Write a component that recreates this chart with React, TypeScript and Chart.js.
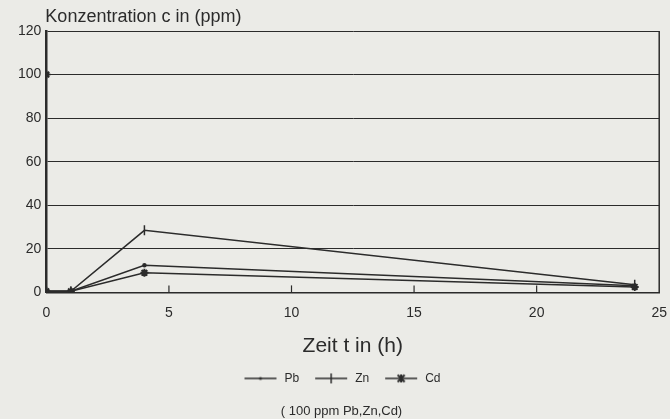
import React, { useEffect, useRef } from "react";
import { Chart, registerables } from "chart.js";

Chart.register(...registerables);

const times = [0, 1, 4, 24];
const pbValues = [0.5, 0.5, 12.5, 3];
const znValues = [0.5, 0.5, 28.5, 3.5];
const cdValues = [0.5, 0.5, 9, 2.5];
const initialTime = [0];
const initialValue = [100];
const seriesNames = ["Pb", "Zn", "Cd"];
const xTickValues = [0, 5, 10, 15, 20, 25];
const yTickValues = [0, 20, 40, 60, 80, 100, 120];

const INK = "#2b2b2b";
const BG = "#ebebe7";
const FONT = "'Liberation Sans', Arial, sans-serif";

function pts(xs: number[], ys: number[]) {
  return xs.map((x, i) => ({ x, y: ys[i] }));
}

function makeIcon(style: string): HTMLCanvasElement {
  const c = document.createElement("canvas");
  c.width = 36;
  c.height = 12;
  const g = c.getContext("2d")!;
  g.strokeStyle = INK;
  g.fillStyle = INK;
  g.lineWidth = 1.5;
  g.beginPath();
  g.moveTo(2, 6);
  g.lineTo(34, 6);
  g.stroke();
  if (style === "dot") {
    g.beginPath();
    g.arc(18, 6, 1.5, 0, Math.PI * 2);
    g.fill();
  } else if (style === "cross") {
    g.beginPath();
    g.moveTo(18, 1);
    g.lineTo(18, 11);
    g.stroke();
  } else if (style === "star") {
    g.lineWidth = 2;
    g.beginPath();
    g.moveTo(18, 2);
    g.lineTo(18, 10);
    g.moveTo(14.5, 2.5);
    g.lineTo(21.5, 9.5);
    g.moveTo(21.5, 2.5);
    g.lineTo(14.5, 9.5);
    g.stroke();
  }
  return c;
}

const framePlugin = {
  id: "frame",
  afterDraw(chart: any) {
    const { ctx, chartArea, scales } = chart;
    ctx.save();
    ctx.strokeStyle = INK;
    ctx.lineWidth = 1.5;
    ctx.beginPath();
    ctx.moveTo(chartArea.right, chartArea.top);
    ctx.lineTo(chartArea.right, chartArea.bottom);
    ctx.stroke();
    // inner x ticks
    ctx.lineWidth = 1.2;
    for (const v of [5, 10, 15, 20]) {
      const px = scales.x.getPixelForValue(v);
      ctx.beginPath();
      ctx.moveTo(px, chartArea.bottom);
      ctx.lineTo(px, chartArea.bottom - 7);
      ctx.stroke();
    }
    // y axis title at top-left
    ctx.fillStyle = INK;
    ctx.font = `18px ${FONT}`;
    ctx.textAlign = "left";
    ctx.textBaseline = "alphabetic";
    ctx.fillText("Konzentration c in (ppm)", chartArea.left - 1, chartArea.top - 9);
    ctx.restore();
  },
};

export default function App() {
  const ref = useRef<HTMLCanvasElement | null>(null);

  useEffect(() => {
    document.body.style.margin = "0";
    document.body.style.background = BG;
    const icons = [makeIcon("dot"), makeIcon("cross"), makeIcon("star")];
    const chart = new Chart(ref.current!, {
      type: "line",
      data: {
        datasets: [
          {
            label: seriesNames[0],
            data: pts(times, pbValues),
            borderColor: INK,
            backgroundColor: INK,
            borderWidth: 1.5,
            pointStyle: "circle",
            pointRadius: 1.5,
          },
          {
            label: seriesNames[1],
            data: pts(times, znValues),
            borderColor: INK,
            backgroundColor: INK,
            borderWidth: 1.5,
            pointRadius: 0,
          },
          {
            label: seriesNames[1] + "m",
            data: pts(times, znValues),
            borderColor: INK,
            backgroundColor: INK,
            borderWidth: 1.5,
            showLine: false,
            pointStyle: "line",
            pointRotation: 90,
            pointRadius: 5,
          },
          {
            label: seriesNames[2],
            data: pts(times, cdValues),
            borderColor: INK,
            backgroundColor: INK,
            borderWidth: 1.5,
            pointStyle: "star",
            pointRadius: 4,
            pointBorderWidth: 2,
          },
          {
            label: "start",
            data: pts(initialTime, initialValue),
            borderColor: INK,
            backgroundColor: INK,
            showLine: false,
            pointStyle: "star",
            pointRadius: 4,
            pointBorderWidth: 2,
          },
        ],
      },
      options: {
        responsive: false,
        animation: false,
        layout: { padding: { top: 31, left: 13, right: 0, bottom: 0 } },
        scales: {
          x: {
            type: "linear",
            min: 0,
            max: 25,
            afterBuildTicks: (s: any) => {
              s.ticks = xTickValues.map((v) => ({ value: v }));
            },
            grid: {
              display: true,
              drawOnChartArea: false,
              drawTicks: true,
              tickLength: 9,
              tickColor: "rgba(0,0,0,0)",
            },
            border: { display: true, color: INK, width: 1.5 },
            ticks: { color: INK, font: { size: 14, family: FONT }, padding: 3 },
            title: {
              display: true,
              text: "Zeit t in (h)",
              color: INK,
              font: { size: 21, family: FONT },
              padding: { top: 9, bottom: 0 },
            },
          },
          y: {
            min: 0,
            max: 120,
            afterBuildTicks: (s: any) => {
              s.ticks = yTickValues.map((v) => ({ value: v }));
            },
            grid: { color: INK, lineWidth: 1, drawTicks: false },
            border: { display: true, color: INK, width: 2.5 },
            ticks: { color: INK, font: { size: 14, family: FONT }, padding: 5 },
          },
        },
        plugins: {
          legend: {
            position: "bottom",
            labels: {
              color: INK,
              font: { size: 12, family: FONT },
              usePointStyle: true,
              pointStyleWidth: 36,
              padding: 14,
              generateLabels: () =>
                seriesNames.map((n, i) => ({
                  text: n,
                  pointStyle: icons[i],
                  fillStyle: INK,
                  strokeStyle: INK,
                  lineWidth: 0,
                  hidden: false,
                  datasetIndex: i,
                  fontColor: INK,
                })),
            },
          },
          subtitle: {
            display: true,
            position: "bottom",
            text: "( 100 ppm Pb,Zn,Cd)",
            color: INK,
            font: { size: 13, family: FONT, weight: "normal" },
            padding: { top: 9, bottom: 0 },
          },
          tooltip: { enabled: false },
        },
      },
      plugins: [framePlugin],
    });
    return () => chart.destroy();
  }, []);

  return (
    <div style={{ width: 670, height: 419, background: BG }}>
      <canvas ref={ref} width={670} height={419} />
    </div>
  );
}
